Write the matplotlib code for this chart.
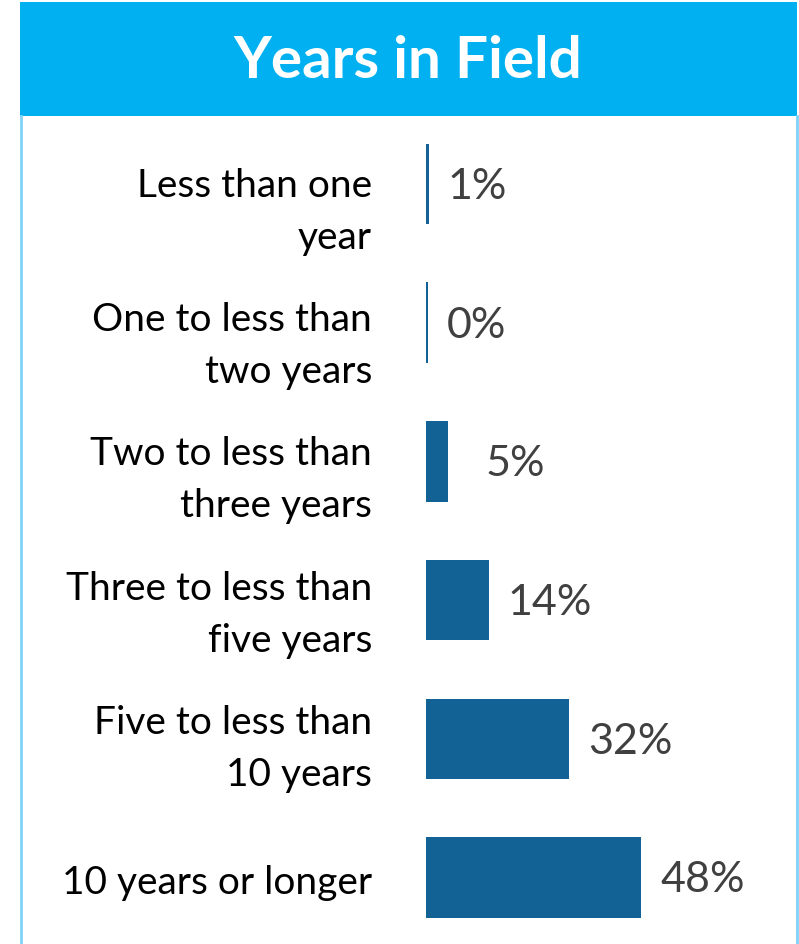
import matplotlib
matplotlib.use("Agg")
import matplotlib.pyplot as plt
from matplotlib.patches import Rectangle
from matplotlib.lines import Line2D

title = "Years in Field"
categories = ["Less than one\nyear", "One to less than\ntwo years", "Two to less than\nthree years",
              "Three to less than\nfive years", "Five to less than\n10 years", "10 years or longer"]
values = [0.6, 0.4, 5, 14, 32, 48]
value_labels = [f"{round(v)}%" for v in values]

W, H = 799, 945
fig = plt.figure(figsize=(W / 100, H / 100), dpi=100)
fig.patch.set_facecolor("white")

def fx(px):
    return px / W

def fy(py):
    return 1 - py / H

# title banner
fig.patches.append(Rectangle((fx(20), fy(117)), fx(797) - fx(20), fy(3) - fy(117),
                             transform=fig.transFigure, facecolor="#00B0F0", edgecolor="none", zorder=0))
fig.text(fx(408), fy(61), title, ha="center", va="center", color="white",
         fontsize=42, fontweight="bold", family=["Lato", "DejaVu Sans"])
# side borders
for x in (21, 797):
    fig.add_artist(Line2D([fx(x), fx(x)], [fy(117), fy(945)], transform=fig.transFigure,
                          color="#7FD3F7", linewidth=2))

ax = fig.add_axes([fx(426), 0, fx(797) - fx(426), fy(117)])
ax.set_axis_off()
ypos = list(range(len(categories)))
ax.barh(ypos, values, height=0.58, color="#136296")
scale = 4.48  # px per percent
ax.set_xlim(0, (797 - 426) / scale)
ax.set_ylim(5.48, -0.49)
label_pad = [19, 19, 37, 19, 19, 19]
for k, (y, v, lab, cat) in enumerate(zip(ypos, values, value_labels, categories)):
    ax.annotate(lab, (v, y), xytext=(label_pad[k], -2), textcoords="offset pixels", ha="left",
                va="center", color="#404040", fontsize=31, family=["Lato", "DejaVu Sans"])
    dy = -(27 - 4.5 * k)
    ax.annotate(cat, (0, y), xytext=(-54, dy), textcoords="offset pixels", ha="right", va="center",
                color="black", fontsize=28, family=["Lato", "DejaVu Sans"], linespacing=1.55,
                annotation_clip=False)

fig.savefig("out.png", dpi=100)
